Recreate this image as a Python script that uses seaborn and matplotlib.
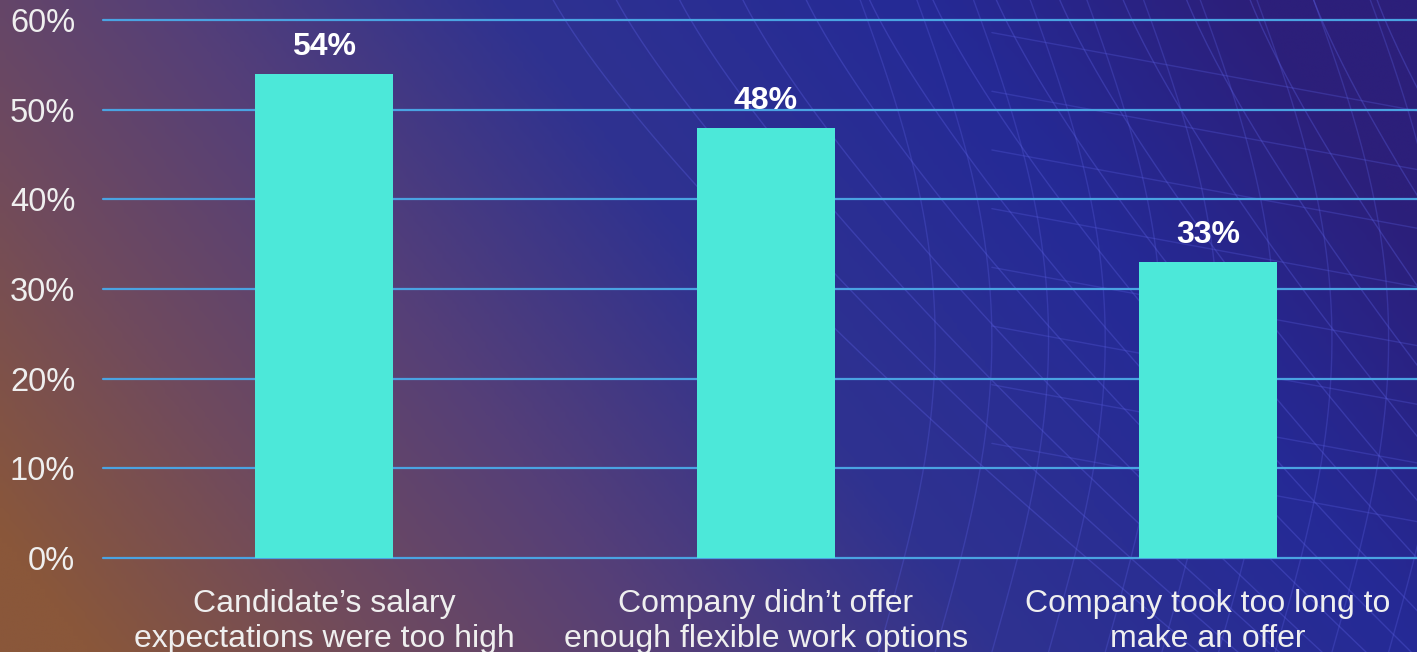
import numpy as np
import pandas as pd
import matplotlib
matplotlib.use("Agg")
import matplotlib.pyplot as plt
from matplotlib.colors import LinearSegmentedColormap
import seaborn as sns

categories = ["Candidate\u2019s salary\nexpectations were too high",
              "Company didn\u2019t offer\nenough flexible work options",
              "Company took too long to\nmake an offer"]
values = [54, 48, 33]
yticks = [0, 10, 20, 30, 40, 50, 60]
ytick_labels = ["0%", "10%", "20%", "30%", "40%", "50%", "60%"]

sns.set_theme(style="white")
plt.rcParams['font.family'] = ['Liberation Sans', 'DejaVu Sans']

W, H = 1417, 652
fig = plt.figure(figsize=(W / 100, H / 100), dpi=100)

# background gradient
bg = fig.add_axes([0, 0, 1, 1], zorder=0)
bg.set_axis_off()
xx, yy = np.meshgrid(np.linspace(0, 1, 300), np.linspace(0, 1, 140))
t = np.clip(0.85 * xx + 0.25 * yy - 0.05 * (1 - yy), 0, 1)
cmap = LinearSegmentedColormap.from_list(
    "bg", [(0.0, "#8a573a"), (0.18, "#6f4a5e"), (0.35, "#553f78"),
           (0.55, "#2f3290"), (0.8, "#252a96"), (1.0, "#2c1f7a")])
bg.imshow(cmap(t), origin="lower", extent=[0, 1, 0, 1], aspect="auto",
          interpolation="bilinear")
th = np.linspace(0, 1, 200)
for k in range(14):
    x0 = 0.38 + k * 0.045
    bg.plot(x0 + 0.55 * th, 1.05 - 1.2 * th ** 0.8 * (1 + 0.03 * k), color="#5a5ee0",
            alpha=0.35, lw=1)
for k in range(12):
    x0 = 0.62 + k * 0.04
    bg.plot(x0 + 0.05 * np.sin(th * 3) - 0.02 * th, th, color="#5a5ee0", alpha=0.3, lw=1)
for k in range(8):
    y0 = 0.95 - k * 0.09
    bg.plot(0.7 + 0.3 * th, y0 - 0.12 * th, color="#5a5ee0", alpha=0.3, lw=1)
bg.set_xlim(0, 1)
bg.set_ylim(0, 1)

left = 103 / W
right = 1429 / W
bottom = 1 - 558 / H
top = 1 - 20 / H
ax = fig.add_axes([left, bottom, right - left, top - bottom], zorder=1)
ax.patch.set_alpha(0)

df = pd.DataFrame({"cat": categories, "val": values})
sns.barplot(data=df, x="cat", y="val", ax=ax, color="#4ce8d9", width=0.312,
            saturation=1, zorder=3, linewidth=0, edgecolor="none")
ax.set_xlim(-0.5, 2.5)
ax.set_ylim(0, 60)
ax.set_yticks(yticks)
ax.set_yticklabels(ytick_labels)
ax.yaxis.grid(True, color="#4aa3e2", lw=1.6, zorder=0)
for gl in ax.get_ygridlines():
    gl.set_clip_on(False)
ax.set_axisbelow(True)
for s in ax.spines.values():
    s.set_visible(False)
ax.set_xlabel("")
ax.set_ylabel("")
ax.tick_params(axis="y", colors="#efefef", labelsize=23.5, length=0, pad=20)
ax.tick_params(axis="x", colors="#efefef", labelsize=23, length=0, pad=22)
for lab in ax.get_xticklabels():
    lab.set_linespacing(1.25)
for i, v in enumerate(values):
    ax.text(i, v + 1.3, f"{v}%", ha="center", va="bottom", color="white",
            fontsize=23, fontweight="bold")

fig.savefig("out.png", dpi=100)
